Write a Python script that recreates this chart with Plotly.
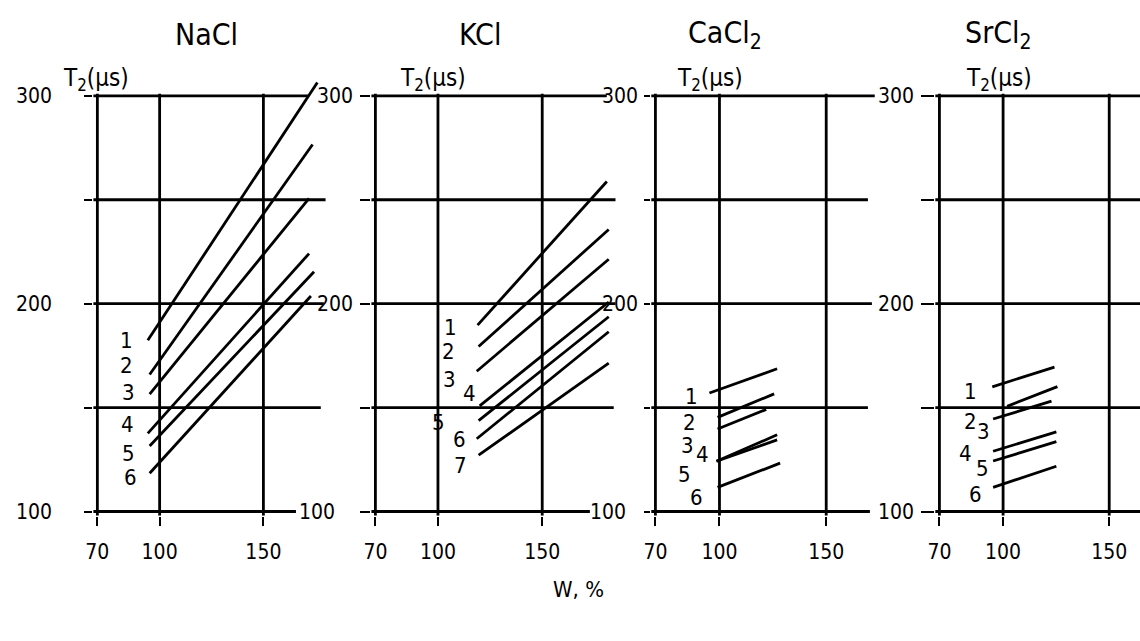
import plotly.graph_objects as go

W, H = 1140, 641

# ---------------- data ----------------
salts = ["NaCl", "KCl", "CaCl<sub>2</sub>", "SrCl<sub>2</sub>"]
x_ticks = [70, 100, 150]
y_ticks = [100, 150, 200, 250, 300]
y_tick_text = ["100", "", "200", "", "300"]
y_unit = "T<sub>2</sub>(μs)"
x_title = "W, %"

nacl_labels = ["1", "2", "3", "4", "5", "6"]
nacl_x_start = [94.3, 95.2, 95.2, 94.3, 95.2, 95.2]
nacl_t2_start = [182.4, 165.9, 156.5, 137.6, 131.5, 118.4]
nacl_x_end = [176.0, 173.7, 172.0, 172.0, 174.4, 172.9]
nacl_t2_end = [306.4, 276.6, 250.7, 224.1, 215.4, 203.7]

kcl_labels = ["1", "2", "3", "4", "5", "6", "7"]
kcl_x_start = [119.0, 119.5, 118.6, 120.0, 119.5, 118.6, 119.5]
kcl_t2_start = [189.7, 179.4, 167.5, 150.8, 143.7, 135.0, 127.1]
kcl_x_end = [181.0, 181.9, 181.9, 181.9, 181.9, 181.9, 181.9]
kcl_t2_end = [258.8, 235.7, 221.4, 200.8, 193.7, 186.5, 171.4]

cacl2_labels = ["1", "2", "3", "4", "5", "6"]
cacl2_x_start = [95.3, 99.1, 99.1, 98.6, 98.6, 99.1]
cacl2_t2_start = [157.0, 145.3, 139.7, 124.2, 124.2, 111.6]
cacl2_x_end = [127.0, 125.6, 121.9, 127.0, 127.0, 128.4]
cacl2_t2_end = [168.7, 156.6, 149.1, 136.9, 134.5, 123.3]

srcl2_labels = ["1", "2", "3", "4", "5", "6"]
srcl2_x_start = [94.9, 101.9, 95.3, 95.3, 95.3, 95.3]
srcl2_t2_start = [160.0, 150.6, 144.5, 129.0, 124.3, 111.6]
srcl2_x_end = [124.2, 125.6, 122.8, 125.1, 125.1, 125.1]
srcl2_t2_end = [169.5, 160.1, 153.1, 138.3, 133.6, 121.8]

# ---------------- layout / style (pixel geometry) ----------------
FONT = "DejaVu Sans Condensed, Liberation Sans Narrow, DejaVu Sans"
INK = "black"
LW = 2.8
Y_RANGE = [98, 310]
Y_TOP_PX, Y_BOT_PX = 76.0, 522.2
y_domain = [1 - Y_BOT_PX / H, 1 - Y_TOP_PX / H]

# label offsets (xshift, yshift) in px, per panel
nacl_off = [(-21, 0), (-23, 9), (-21, 2), (-20, 9), (-21, -7), (-19, -4)]
kcl_off = [(-27, -2), (-30, -5), (-27, -8), (-10, 12), (-40, -2), (-17, -1), (-18, -10)]
cacl2_off = [(-18, -3), (-28, -5), (-30, -16), (-14, 7), (-32, -13), (-21, -10)]
srcl2_off = [(-22, -5), (-37, -15), (-10, -12), (-28, -2), (-11, -7), (-18, -7)]

# right ends (px) of the horizontal rules at 100,150,200,250,300 in each panel
panels = [
    dict(labels=nacl_labels, xs=nacl_x_start, ys=nacl_t2_start, xe=nacl_x_end, ye=nacl_t2_end,
         off=nacl_off, left=90, pxu=2.09, rule_end=[290, 315, 318, 320, 302],
         ticklen=8, standoff=28, pad100=0, title_px=200, unit_px=53),
    dict(labels=kcl_labels, xs=kcl_x_start, ys=kcl_t2_start, xe=kcl_x_end, ye=kcl_t2_end,
         off=kcl_off, left=370, pxu=2.10, rule_end=[586, 610, 612, 612, 603],
         ticklen=10, standoff=3, pad100=3, title_px=475, unit_px=393),
    dict(labels=cacl2_labels, xs=cacl2_x_start, ys=cacl2_t2_start, xe=cacl2_x_end, ye=cacl2_t2_end,
         off=cacl2_off, left=652, pxu=2.15, rule_end=[868, 866, 870, 866, 873],
         ticklen=6, standoff=2, pad100=2, title_px=722, unit_px=672),
    dict(labels=srcl2_labels, xs=srcl2_x_start, ys=srcl2_t2_start, xe=srcl2_x_end, ye=srcl2_t2_end,
         off=srcl2_off, left=938, pxu=2.1375, rule_end=[1140, 1140, 1140, 1140, 1140],
         ticklen=13, standoff=3, pad100=0, title_px=997, unit_px=963),
]

fig = go.Figure()
layout = dict(
    width=W, height=H, margin=dict(l=0, r=0, t=0, b=0),
    paper_bgcolor="white", plot_bgcolor="white",
    showlegend=False, font=dict(family=FONT, color=INK, size=21),
)
shapes, annotations = [], []

for i, p in enumerate(panels):
    n = i + 1
    xa = "x" if n == 1 else f"x{n}"
    ya = "y" if n == 1 else f"y{n}"
    xkey = "xaxis" if n == 1 else f"xaxis{n}"
    ykey = "yaxis" if n == 1 else f"yaxis{n}"
    right_px = min(max(p["rule_end"]), W)
    x_min = x_ticks[0] - 2
    x_max = x_ticks[0] + (right_px - p["left"]) / p["pxu"]
    dom_l = (p["left"] - 2 * p["pxu"]) / W
    dom_r = right_px / W

    # the lowest label sits a little further left in the original drawing
    tick_text = [t + "&nbsp;" * p["pad100"] if (t and j == 0) else t
                 for j, t in enumerate(y_tick_text)]

    layout[xkey] = dict(
        domain=[dom_l, dom_r], range=[x_min, x_max], anchor=ya,
        showgrid=False, zeroline=False, showline=False,
        tickvals=x_ticks, ticks="outside", ticklen=9, tickwidth=2, tickcolor=INK,
        tickfont=dict(family=FONT, size=21, color=INK), ticklabelstandoff=8,
        fixedrange=True,
    )
    layout[ykey] = dict(
        domain=y_domain, range=Y_RANGE, anchor=xa,
        showgrid=False, zeroline=False, showline=False,
        tickvals=y_ticks, ticktext=tick_text, ticks="outside",
        ticklen=p["ticklen"], tickwidth=2, tickcolor=INK,
        tickfont=dict(family=FONT, size=21, color=INK), ticklabelstandoff=p["standoff"],
        fixedrange=True,
    )

    # horizontal rules at the y tick values
    for v, end_px in zip(y_ticks, p["rule_end"]):
        x_end = x_ticks[0] + (min(end_px, W) - p["left"]) / p["pxu"]
        shapes.append(dict(type="line", xref=xa, yref=ya, x0=x_min, x1=x_end,
                           y0=v, y1=v, line=dict(color=INK, width=LW), layer="below"))
    # vertical rules at the x tick values
    for v in x_ticks:
        shapes.append(dict(type="line", xref=xa, yref=ya, x0=v, x1=v,
                           y0=Y_RANGE[0], y1=y_ticks[-1] + 1,
                           line=dict(color=INK, width=LW), layer="below"))

    # data lines
    for k, lab in enumerate(p["labels"]):
        fig.add_trace(go.Scatter(
            x=[p["xs"][k], p["xe"][k]], y=[p["ys"][k], p["ye"][k]],
            mode="lines", line=dict(color=INK, width=LW),
            xaxis=xa, yaxis=ya, hoverinfo="skip", name=lab,
        ))
        dx, dy = p["off"][k]
        annotations.append(dict(
            x=p["xs"][k], y=p["ys"][k], xref=xa, yref=ya, text=lab,
            showarrow=False, xanchor="center", yanchor="middle",
            xshift=dx, yshift=dy, font=dict(family=FONT, size=22, color=INK),
        ))

    # panel title and unit label
    annotations.append(dict(
        x=p["title_px"] / W, y=1 - 35 / H, xref="paper", yref="paper",
        text=salts[i], showarrow=False, xanchor="center", yanchor="middle",
        font=dict(family=FONT, size=30, color=INK),
    ))
    annotations.append(dict(
        x=p["unit_px"] / W, y=1 - 80 / H, xref="paper", yref="paper",
        text=y_unit, showarrow=False, xanchor="left", yanchor="middle",
        font=dict(family=FONT, size=24, color=INK),
    ))

annotations.append(dict(
    x=575 / W, y=1 - 597 / H, xref="paper", yref="paper", text=x_title,
    showarrow=False, xanchor="center", yanchor="middle",
    font=dict(family=FONT, size=22, color=INK),
))

layout["shapes"] = shapes
layout["annotations"] = annotations
fig.update_layout(**layout)
fig.write_html("out.html")
